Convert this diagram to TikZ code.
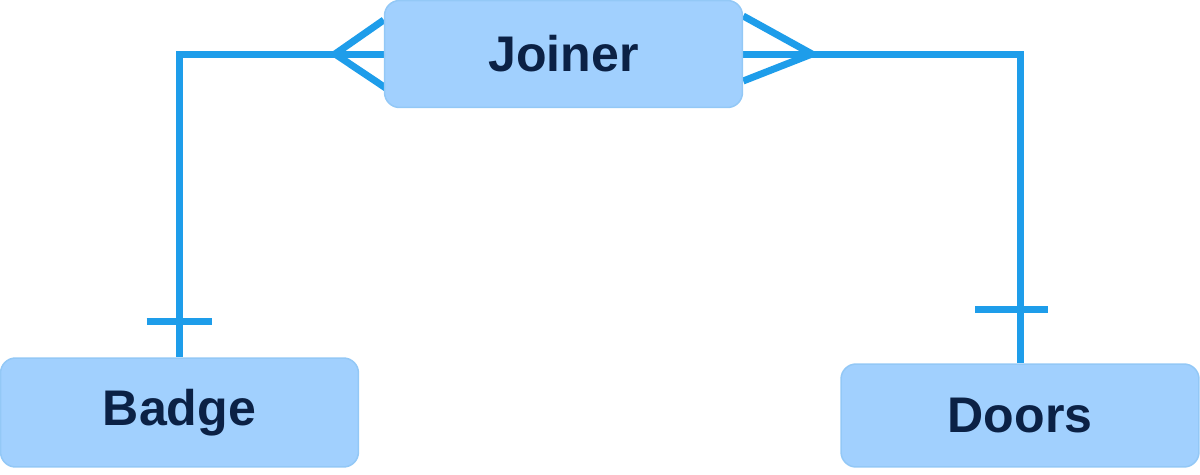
\documentclass[tikz,border=0pt]{standalone}
\usepackage{fontspec}
\setmainfont{Liberation Sans}
\usepackage{tikz}
\usetikzlibrary{calc,backgrounds}
\definecolor{boxblue}{HTML}{A1D0FE}
\definecolor{boxedge}{HTML}{93C8F6}
\definecolor{linkblue}{HTML}{1E9DEA}
\definecolor{inkblue}{HTML}{0B2145}
\tikzset{
	entity/.style={draw=boxedge, line width=0.3mm, fill=boxblue, rounded corners=0.3cm,
		minimum width=7.16cm, text=inkblue, font=\fontsize{28.5}{30}\selectfont\bfseries},
	link/.style={draw=linkblue, line width=0.14cm}
}
\begin{document}
\begin{tikzpicture}[x=0.02cm, y=-0.02cm]
			%%%%% START %%%%%
			
			\useasboundingbox (0, 0) rectangle (1200, 474);
			
			\node[entity, minimum height=2.14cm] (joiner) at (563.5, 54) {Joiner};
			\node[entity, minimum height=2.18cm] (badge) at (179.5, 412.5) {Badge};
			\node[entity, minimum height=2.06cm] (doors) at (1020, 415.5) {Doors};
			
			\coordinate (leftfoot) at (335, 54);
			\coordinate (rightfoot) at (812, 54);
			
			\begin{pgfonlayer}{background}
			\draw[link] (joiner.west) -- (leftfoot) -| (badge.north);
			\draw[link] (leftfoot) -- ($(joiner.west)+(0, -34)$);
			\draw[link] (leftfoot) -- ($(joiner.west)+(2, 34)$);
			
			\draw[link] (joiner.east) -- (rightfoot) -| (doors.north);
			\draw[link] (rightfoot) -- ($(joiner.east)+(0, -38)$);
			\draw[link] (rightfoot) -- ($(joiner.east)+(0, 27)$);
			
			\draw[link] ($(badge.north)+(-33, -36)$) -- ($(badge.north)+(32, -36)$);
			\draw[link] ($(doors.north)+(-45, -54)$) -- ($(doors.north)+(28, -54)$);
			\end{pgfonlayer}
			
			%%%%% END %%%%%
\end{tikzpicture}
\end{document}
